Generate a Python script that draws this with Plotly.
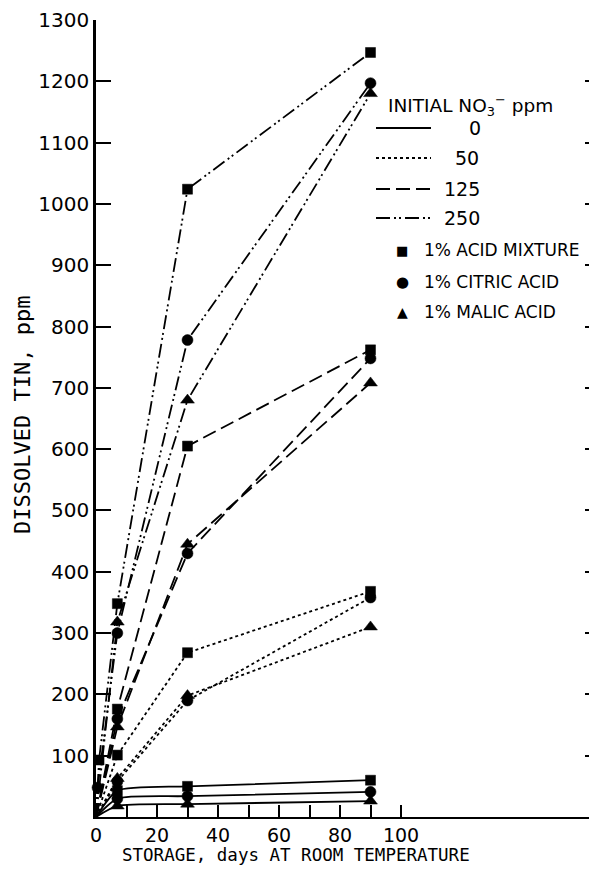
import plotly.graph_objects as go

# ---- data ----
days = [0, 7, 30, 90]
mix_0 = [0, 43, 50, 60]
cit_0 = [0, 30, 34, 41]
mal_0 = [0, 18, 21, 26]

mix_50 = [0, 101, 268, 368]
cit_50 = [0, 58, 190, 358]
mal_50 = [0, 63, 198, 310]

mix_125 = [0, 176, 605, 762]
cit_125 = [0, 160, 430, 748]
mal_125 = [0, 147, 445, 708]

days_mix_250 = [0, 1, 7, 30, 90]
mix_250 = [0, 93, 348, 1024, 1247]
days_cit_250 = [0, 0.5, 7, 30, 90]
cit_250 = [0, 48, 300, 778, 1197]
mal_250 = [0, 318, 680, 1180]

x_tick_vals = [0, 20, 40, 60, 80, 100]
x_tick_text = ["0", "20", "40", "60", "80", "100"]
x_minor_vals = [10, 30, 50, 70, 90]
y_tick_vals = list(range(100, 1301, 100))

FONT = "DejaVu Sans"
MONO = "DejaVu Sans Mono"
DASH = {"solid": "solid", "dot": "dot", "dash": "14px,6px", "dashdot": "14px,4px,2px,3px,2px,4px"}
SYM = {"mix": ("square", 10), "cit": ("circle", 11), "mal": ("triangle-up", 12)}

series = [
    (days, mix_0, "mix", "solid", "spline"),
    (days, cit_0, "cit", "solid", "spline"),
    (days, mal_0, "mal", "solid", "spline"),
    (days, mix_50, "mix", "dot", "linear"),
    (days, cit_50, "cit", "dot", "linear"),
    (days, mal_50, "mal", "dot", "linear"),
    (days, mix_125, "mix", "dash", "linear"),
    (days, cit_125, "cit", "dash", "linear"),
    (days, mal_125, "mal", "dash", "linear"),
    (days_mix_250, mix_250, "mix", "dashdot", "linear"),
    (days_cit_250, cit_250, "cit", "dashdot", "linear"),
    (days, mal_250, "mal", "dashdot", "linear"),
]

fig = go.Figure()
for xs, ys, acid, dash, shape in series:
    sym, sz = SYM[acid]
    sizes = [0 if x == 0 else sz for x in xs]
    fig.add_trace(go.Scatter(
        x=xs, y=ys, mode="lines+markers",
        line=dict(color="black", width=1.8, dash=DASH[dash], shape=shape, smoothing=0.6),
        marker=dict(symbol=sym, size=sizes, color="black", opacity=1,
                    line=dict(width=0.5, color="black")),
        showlegend=False, cliponaxis=False,
    ))

# invisible trace to carry the right-hand axis
fig.add_trace(go.Scatter(x=[None], y=[None], yaxis="y2", showlegend=False))

# page has an 8px body margin; plot area in page pixels: x 96..597, y 20..817
W, H = 589, 862
L, R, T, B = 88, 0, 12, 53
PX0, PX1, PY0, PY1 = 96, 597, 20, 817
pw, ph = PX1 - PX0, PY1 - PY0
XMAX = 100 * pw / 305.0

def px(xp):
    return (xp - PX0) / pw

def py(yp):
    return (PY1 - yp) / ph

fig.update_layout(
    width=W, height=H,
    margin=dict(l=L, r=R, t=T, b=B, autoexpand=False),
    paper_bgcolor="white", plot_bgcolor="white",
    font=dict(family=FONT, color="black", size=17),
    xaxis=dict(
        range=[0, XMAX], tickvals=x_tick_vals, ticktext=x_tick_text,
        ticks="inside", ticklen=12, tickwidth=1.5, tickcolor="black",
        minor=dict(tickvals=x_minor_vals, ticks="inside", ticklen=12, tickwidth=1.5, tickcolor="black",
                   showgrid=False),
        showline=True, linecolor="black", linewidth=2, showgrid=False, zeroline=False,
        tickfont=dict(family=FONT, size=19), automargin=False,
    ),
    yaxis=dict(
        range=[0, 1300], tickvals=y_tick_vals,
        ticks="inside", ticklen=15, tickwidth=1.5, tickcolor="black",
        showline=True, linecolor="black", linewidth=2.5, showgrid=False, zeroline=False,
        tickfont=dict(family=FONT, size=20), automargin=False,
    ),
    yaxis2=dict(
        range=[0, 1300], tickvals=y_tick_vals, overlaying="y", side="right",
        ticks="inside", ticklen=12, tickwidth=1.5, tickcolor="black",
        showline=False, showgrid=False, zeroline=False, showticklabels=False, automargin=False,
    ),
)

ann = []
ann.append(dict(text="STORAGE, days AT ROOM TEMPERATURE", x=px(296), y=py(855),
                xref="paper", yref="paper", showarrow=False, xanchor="center", yanchor="middle",
                font=dict(family=MONO, size=17.5)))
ann.append(dict(text="DISSOLVED TIN, ppm", x=px(22), y=py(415), textangle=-90,
                xref="paper", yref="paper", showarrow=False, xanchor="center", yanchor="middle",
                font=dict(family=MONO, size=22)))

# legend
ann.append(dict(text="INITIAL NO<sub>3</sub><sup>−</sup> ppm", x=px(386), y=py(106),
                xref="paper", yref="paper", showarrow=False, xanchor="left", yanchor="middle",
                font=dict(family=FONT, size=18.5)))
leg_lines = [("0", "solid", 128, 475), ("50", "dot", 158, 467), ("125", "dash", 189, 462), ("250", "dashdot", 218, 462)]
shapes = []
for lab, dash, yy, xc in leg_lines:
    shapes.append(dict(type="line", xref="paper", yref="paper", x0=px(376), x1=px(431), y0=py(yy), y1=py(yy),
                       line=dict(color="black", width=2, dash=DASH[dash])))
    ann.append(dict(text=lab, x=px(xc), y=py(yy), xref="paper", yref="paper", showarrow=False,
                    xanchor="center", yanchor="middle", font=dict(family=FONT, size=19)))
leg_marks = [("■", "1% ACID MIXTURE", 250, 13), ("●", "1% CITRIC ACID", 282, 15), ("▲", "1% MALIC ACID", 312, 14)]
for sym, lab, yy, fs in leg_marks:
    ann.append(dict(text=sym, x=px(402), y=py(yy), xref="paper", yref="paper", showarrow=False,
                    xanchor="center", yanchor="middle", font=dict(family=FONT, size=fs)))
    ann.append(dict(text=lab, x=px(422), y=py(yy), xref="paper", yref="paper", showarrow=False,
                    xanchor="left", yanchor="middle", font=dict(family=FONT, size=17)))

fig.update_layout(annotations=ann, shapes=shapes)
fig.write_html("out.html")
